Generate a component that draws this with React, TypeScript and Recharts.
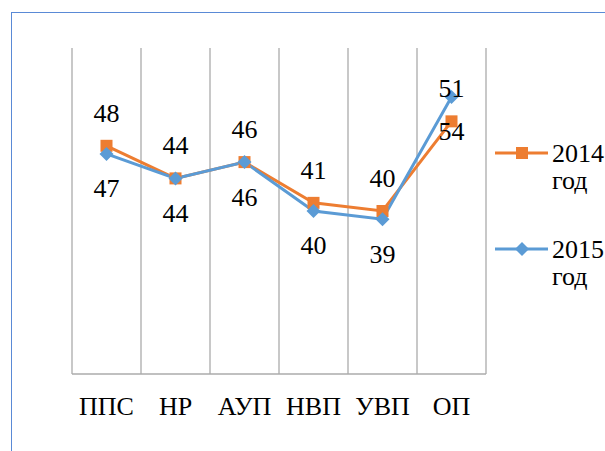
import { LineChart, Line, XAxis, YAxis, CartesianGrid, LabelList } from 'recharts'

const categories = ['ППС', 'НР', 'АУП', 'НВП', 'УВП', 'ОП']
const values2014 = [48, 44, 46, 41, 40, 51]
const values2015 = [47, 44, 46, 40, 39, 54]
const seriesNames = ['2014 год', '2015 год']

const data = categories.map((name, i) => ({
  name,
  idx: i + 0.5,
  y2014: values2014[i],
  y2015: values2015[i],
}))

// category boundaries for the vertical gridlines and the axis ticks
const boundaryTicks = categories.map((_, i) => i).concat(categories.length)

const FONT = "'Liberation Serif', serif"
const ORANGE = '#ED7D31'
const BLUE = '#5B9BD5'
const GRID = '#ABABAB'

const SquareDot = (props: any) => {
  const { cx, cy } = props
  if (cx == null || cy == null) return null
  return <rect x={cx - 6} y={cy - 6} width={12} height={12} fill={ORANGE} />
}

const DiamondDot = (props: any) => {
  const { cx, cy } = props
  if (cx == null || cy == null) return null
  const r = 7
  return <path d={`M${cx},${cy - r}L${cx + r},${cy}L${cx},${cy + r}L${cx - r},${cy}Z`} fill={BLUE} />
}

const legendItems = [
  { name: seriesNames[0], color: ORANGE, shape: 'square' },
  { name: seriesNames[1], color: BLUE, shape: 'diamond' },
]

const ChartLegend = () => (
  <div style={{ position: 'absolute', left: 495, top: 138, width: 110, fontFamily: FONT, fontSize: 26, color: '#000' }}>
    {legendItems.map((item, i) => {
      const [year, word] = item.name.split(' ')
      return (
        <div key={i} style={{ display: 'flex', alignItems: 'flex-start', height: 96 }}>
          <svg width={57} height={30} style={{ flex: 'none' }}>
            <line x1={0} y1={15} x2={53} y2={15} stroke={item.color} strokeWidth={3} />
            {item.shape === 'square' ? (
              <rect x={21} y={9} width={12} height={12} fill={item.color} />
            ) : (
              <path d="M27,8L34,15L27,22L20,15Z" fill={item.color} />
            )}
          </svg>
          <div style={{ lineHeight: '27px', marginTop: 2 }}>
            <div>{year}</div>
            <div>{word}</div>
          </div>
        </div>
      )
    })}
  </div>
)

export default function App() {
  return (
    <div style={{ position: 'fixed', left: 0, top: 0, width: 605, height: 451, overflow: 'hidden', background: '#fff', fontFamily: FONT }}>
      <div
        style={{
          position: 'absolute',
          left: 11,
          top: 12,
          width: 700,
          height: 600,
          border: '1.5px solid #5A8AD6',
        }}
      />
      <LineChart
        width={605}
        height={451}
        data={data}
        margin={{ top: 48, right: 119, left: 72, bottom: 47 }}
        style={{ position: 'absolute', left: 0, top: 0, fontFamily: FONT }}
      >
        <CartesianGrid xAxisId="b" horizontal={false} stroke={GRID} strokeWidth={1.3} />
        <XAxis
          xAxisId="b"
          dataKey="idx"
          type="number"
          domain={[0, categories.length]}
          ticks={boundaryTicks}
          height={0}
          axisLine={false}
          tickLine={{ stroke: GRID, strokeWidth: 1.3 }}
          tickSize={8}
          tickFormatter={() => ''}
        />
        <XAxis
          xAxisId="cat"
          dataKey="name"
          scale="band"
          height={30}
          axisLine={{ stroke: GRID, strokeWidth: 1.3 }}
          tickLine={false}
          tickSize={0}
          tickMargin={23}
          interval={0}
          tick={{ fill: '#000', fontSize: 26, fontFamily: FONT }}
        />
        <YAxis hide domain={[20, 60]} />
        <Line
          xAxisId="cat"
          name={seriesNames[0]}
          dataKey="y2014"
          stroke={ORANGE}
          strokeWidth={3}
          dot={<SquareDot />}
          activeDot={false}
          isAnimationActive={false}
        >
          <LabelList dataKey="y2014" position="top" offset={24} fill="#000" fontSize={26} fontFamily={FONT} />
        </Line>
        <Line
          xAxisId="cat"
          name={seriesNames[1]}
          dataKey="y2015"
          stroke={BLUE}
          strokeWidth={3}
          dot={<DiamondDot />}
          activeDot={false}
          isAnimationActive={false}
        >
          <LabelList dataKey="y2015" position="bottom" offset={25} fill="#000" fontSize={26} fontFamily={FONT} />
        </Line>
      </LineChart>
      <ChartLegend />
    </div>
  )
}
